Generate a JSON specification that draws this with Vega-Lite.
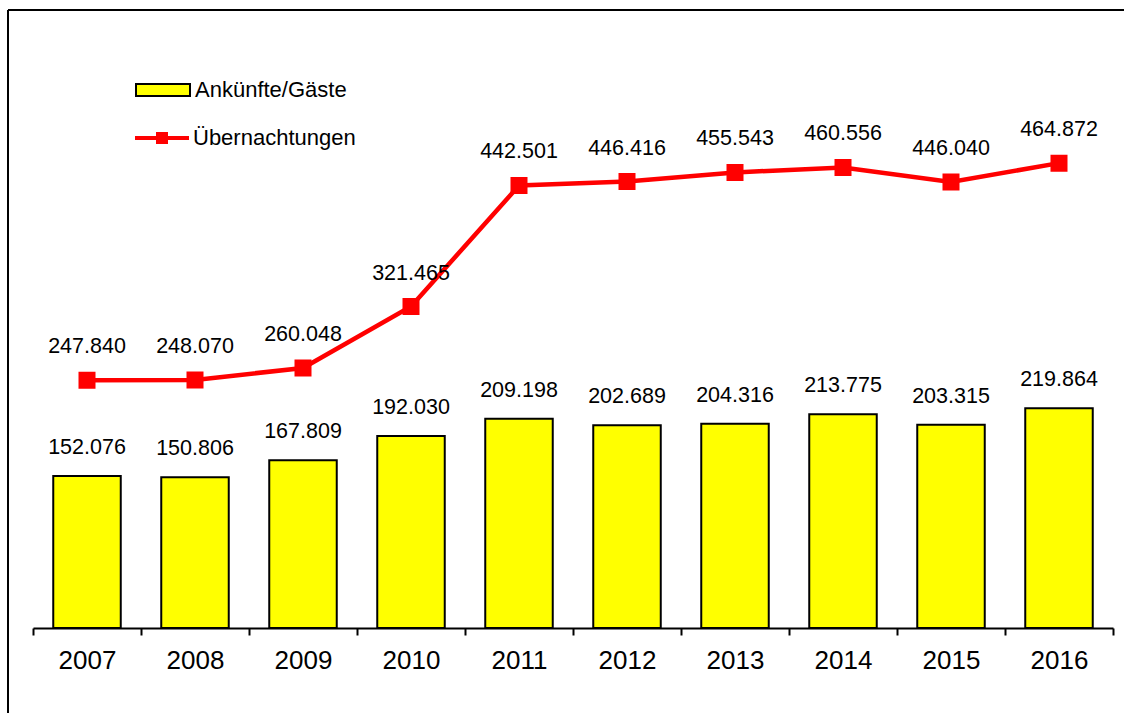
{
  "$schema": "https://vega.github.io/schema/vega-lite/v6.json",
  "width": 1116,
  "height": 703,
  "autosize": "none",
  "padding": {"left": 8, "top": 10, "right": 0, "bottom": 0},
  "config": {
    "locale": {"number": {"decimal": ",", "thousands": ".", "grouping": [3], "currency": ["", " €"]}},
    "view": {"stroke": "black", "strokeWidth": 2, "strokeDash": [1116, 1819, 703, 0]},
    "font": "Liberation Sans",
    "text": {"font": "Liberation Sans"}
  },
  "data": {
    "values": [
      {"Jahr": "2007", "Ankuenfte": 152076, "Uebernachtungen": 247840},
      {"Jahr": "2008", "Ankuenfte": 150806, "Uebernachtungen": 248070},
      {"Jahr": "2009", "Ankuenfte": 167809, "Uebernachtungen": 260048},
      {"Jahr": "2010", "Ankuenfte": 192030, "Uebernachtungen": 321465},
      {"Jahr": "2011", "Ankuenfte": 209198, "Uebernachtungen": 442501},
      {"Jahr": "2012", "Ankuenfte": 202689, "Uebernachtungen": 446416},
      {"Jahr": "2013", "Ankuenfte": 204316, "Uebernachtungen": 455543},
      {"Jahr": "2014", "Ankuenfte": 213775, "Uebernachtungen": 460556},
      {"Jahr": "2015", "Ankuenfte": 203315, "Uebernachtungen": 446040},
      {"Jahr": "2016", "Ankuenfte": 219864, "Uebernachtungen": 464872}
    ]
  },
  "encoding": {
    "x": {
      "field": "Jahr",
      "type": "ordinal",
      "scale": {"range": [25, 1105], "paddingInner": 0, "paddingOuter": 0},
      "axis": {
        "orient": "bottom",
        "offset": -85,
        "title": null,
        "labelAngle": 0,
        "labelFontSize": 26,
        "labelFont": "Liberation Sans",
        "labelColor": "black",
        "labelPadding": 12,
        "tickBand": "extent",
        "tickSize": 7,
        "tickWidth": 2,
        "tickColor": "black",
        "domainColor": "black",
        "domainWidth": 2,
        "grid": false
      }
    }
  },
  "layer": [
    {
      "mark": {"type": "bar", "width": {"band": 0.625}, "stroke": "black", "strokeWidth": 2},
      "encoding": {
        "y": {"field": "Ankuenfte", "type": "quantitative", "scale": {"domain": [-85000, 618000], "nice": false, "zero": false}, "axis": null},
        "y2": {"datum": 0},
        "fill": {
          "datum": "Ankünfte/Gäste",
          "type": "nominal",
          "scale": {"domain": ["Ankünfte/Gäste"], "range": ["#FFFF00"]},
          "legend": {
            "title": null,
            "orient": "none",
            "legendX": 127,
            "legendY": 52,
            "padding": 0,
            "symbolSize": 2916,
            "symbolType": "M-1,-0.222H1V0.222H-1Z",
            "symbolStrokeColor": "black",
            "symbolStrokeWidth": 2,
            "symbolOpacity": 1,
            "labelFontSize": 22,
            "labelFont": "Liberation Sans",
            "labelColor": "black",
            "labelOffset": 4,
            "labelLimit": 400
          }
        }
      }
    },
    {
      "mark": {"type": "text", "baseline": "alphabetic", "dy": -22, "fontSize": 21.5, "color": "black", "font": "Liberation Sans"},
      "encoding": {
        "y": {"field": "Ankuenfte", "type": "quantitative"},
        "text": {"field": "Ankuenfte", "type": "quantitative", "format": ",.0f"}
      }
    },
    {
      "mark": {"type": "line", "strokeWidth": 4.5, "point": {"shape": "square", "size": 225, "filled": true, "color": "#FF0000", "opacity": 1}},
      "encoding": {
        "y": {"field": "Uebernachtungen", "type": "quantitative"},
        "stroke": {
          "datum": "Übernachtungen",
          "type": "nominal",
          "scale": {"domain": ["Übernachtungen"], "range": ["#FF0000"]},
          "legend": {
            "title": null,
            "orient": "none",
            "legendX": 127,
            "legendY": 101,
            "padding": 0,
            "symbolSize": 2916,
            "symbolType": "M-1,-0.074H1V0.074H-1Z M-0.222,-0.222H0.222V0.222H-0.222Z",
            "symbolFillColor": "#FF0000",
            "symbolStrokeWidth": 0,
            "symbolOpacity": 1,
            "labelFontSize": 22,
            "labelFont": "Liberation Sans",
            "labelColor": "black",
            "labelOffset": 4,
            "labelLimit": 400
          }
        }
      }
    },
    {
      "mark": {"type": "text", "baseline": "alphabetic", "dy": -27, "fontSize": 21.5, "color": "black", "font": "Liberation Sans"},
      "encoding": {
        "y": {"field": "Uebernachtungen", "type": "quantitative"},
        "text": {"field": "Uebernachtungen", "type": "quantitative", "format": ",.0f"}
      }
    }
  ]
}
